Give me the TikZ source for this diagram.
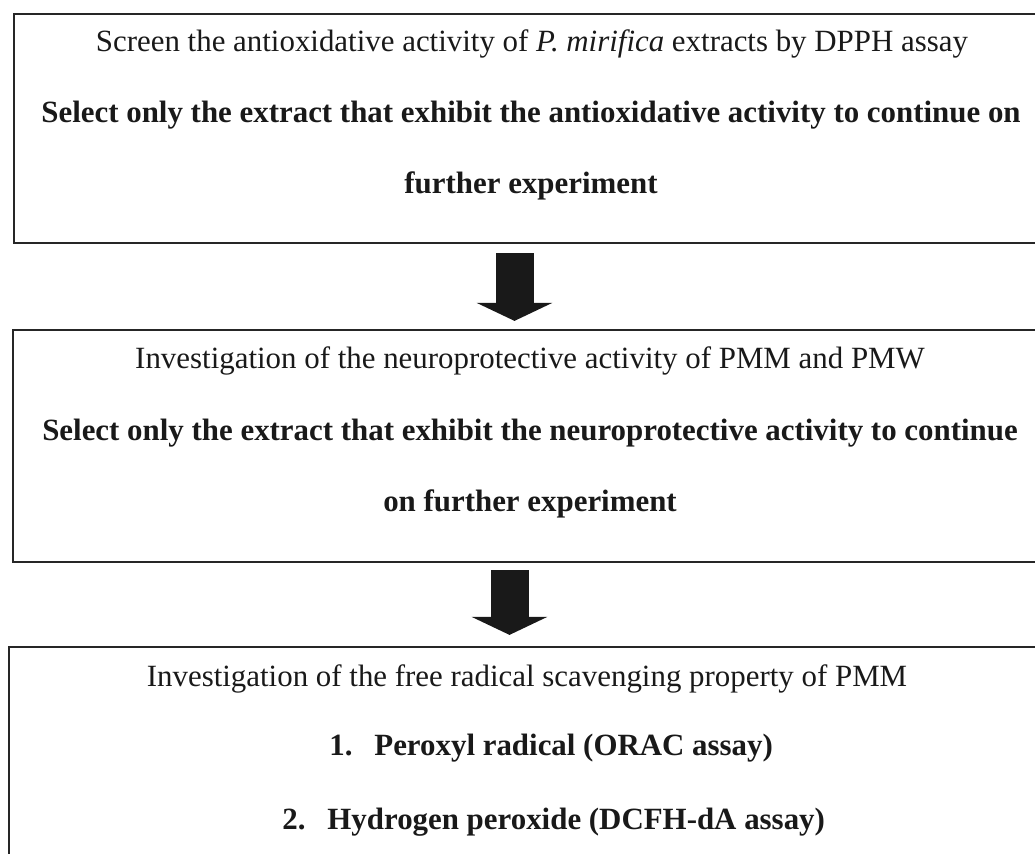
\documentclass[tikz,border=0pt]{standalone}
\usepackage{fontspec}
\setmainfont{Liberation Serif}
\usetikzlibrary{fit,arrows.meta}
\begin{document}
\begin{tikzpicture}[x=0.5pt,y=-0.5pt,
  panel/.style={draw=black!85, line width=1.1pt, inner sep=0pt},
  txt/.style={anchor=base, inner sep=0pt, text=black!90, font=\fontsize{15.45}{18}\selectfont},
  btxt/.style={txt, font=\fontsize{15.45}{18}\selectfont\bfseries},
  listitem/.style={btxt, anchor=base west},
  blockarrow/.style={line width=19pt, draw=black!90,
    -{Triangle[width=37.5pt,length=9pt]}}]
\useasboundingbox (0,0) rectangle (1035,854);
\clip (0,0) rectangle (1035,854);

% three stacked panels, open to the right and bottom
\node[panel, fit={(14,14) (1060,243)}] (b1) {};
\node[panel, fit={(13,330) (1060,562)}] (b2) {};
\node[panel, fit={(9,647) (1060,880)}] (b3) {};

% first panel
\node[txt]  (t11) at (532,52)  {Screen the antioxidative activity of \textit{P. mirifica} extracts by DPPH assay};
\node[btxt] (t12) at (531,123) {Select only the extract that exhibit the antioxidative activity to continue on};
\node[btxt] (t13) at (531,194) {further experiment};

% second panel
\node[txt]  (t21) at (530,369) {Investigation of the neuroprotective activity of PMM and PMW};
\node[btxt] (t22) at (530,441) {Select only the extract that exhibit the neuroprotective activity to continue};
\node[btxt] (t23) at (530,512) {on further experiment};

% third panel
\node[txt]  (t31) at (527,687) {Investigation of the free radical scavenging property of PMM};
\node[listitem] (t32) at (329,756) {\makebox[22.5pt][l]{1.}Peroxyl radical (ORAC assay)};
\node[listitem] (t33) at (282,830) {\makebox[22.5pt][l]{2.}Hydrogen peroxide (DCFH-dA assay)};

% block arrows between panels
\coordinate (ax1) at (514.5,0);
\coordinate (ax2) at (509.5,0);
\draw[blockarrow, shorten <=4.5pt, shorten >=4pt] (b1.south -| ax1) -- (b2.north -| ax1);
\draw[blockarrow, shorten <=3.5pt, shorten >=5.5pt] (b2.south -| ax2) -- (b3.north -| ax2);
\end{tikzpicture}
\end{document}
